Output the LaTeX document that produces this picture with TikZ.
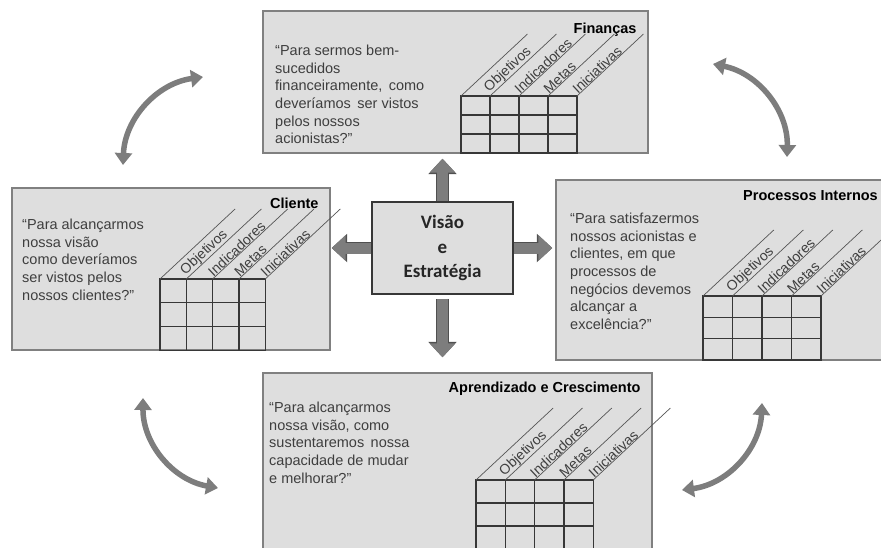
\documentclass[tikz,border=0pt]{standalone}
\usepackage{fontspec}
\setmainfont{Liberation Sans}
\newfontfamily\calibfont{Carlito}
\usepackage{tikz}
\usetikzlibrary{calc}
\usetikzlibrary{positioning}
\usetikzlibrary{arrows.meta}

\definecolor{boxfill}{RGB}{222,222,222}
\definecolor{boxline}{RGB}{128,128,128}
\definecolor{gridcol}{RGB}{55,55,55}
\definecolor{diagcol}{RGB}{85,85,85}
\definecolor{txtcol}{RGB}{62,62,62}
\definecolor{arrfill}{RGB}{125,125,125}
\definecolor{arrline}{RGB}{80,80,80}

% table of a perspective: x, y of top left corner, column width, row height, rise of the slanted lines
\newcommand{\bscgrid}[5]{%
	\begin{scope}[shift={(#1,#2)}]
		\draw[gridline] (0,0) rectangle (4*#3,-3*#4);
		\foreach \i in {1,2,3} \draw[gridline] (\i*#3,0) -- (\i*#3,-3*#4);
		\foreach \j in {1,2} \draw[gridline] (0,-\j*#4) -- (4*#3,-\j*#4);
		\foreach \i in {0,...,4} \draw[diagline] (\i*#3,0) -- ++(43:{#5/sin(43)});
		\foreach \lab [count=\i] in {Objetivos,Indicadores,Metas,Iniciativas}
			\node[collabel] at ($(\i*#3,0)+(43:1.5)$) {\lab};
	\end{scope}}

\begin{document}
\begin{tikzpicture}[x=1pt,y=1pt,
		bscbox/.style={rectangle, draw=boxline, fill=boxfill, line width=1.4pt, inner sep=0pt},
		bsctitle/.style={inner sep=0pt, font=\bfseries\fontsize{14.5}{17}\selectfont},
		quote/.style={inner sep=0pt, align=left, text=txtcol, font=\fontsize{14.5}{17.6}\selectfont},
		gridline/.style={draw=gridcol, line width=1.2pt},
		diagline/.style={draw=diagcol, line width=0.7pt},
		collabel/.style={rotate=43, anchor=south west, inner sep=0.3pt, text=txtcol, font=\fontsize{14}{15}\selectfont},
		blockarr/.style={draw=arrfill, line width=11pt, -{Triangle[length=14pt,width=25pt]},
			preaction={draw=arrline, line width=12.5pt, -{Triangle[length=15.5pt,width=27.5pt]}}},
		curvarr/.style={draw=arrfill, line width=5.5pt, {Triangle[length=12pt,width=17pt]}-{Triangle[length=12pt,width=17pt]}}]
	\useasboundingbox (0,0) rectangle (881,-547);
	\clip (0,0) rectangle (881,-547);
	
	% the four perspectives
	\node[bscbox, minimum width=385pt, minimum height=142pt] (fin) at (455.5,-82) {};
	\node[bscbox, minimum width=318pt, minimum height=162pt] (cli) at (171,-269) {};
	\node[bscbox, minimum width=344pt, minimum height=180pt] (proc) at (728,-270) {};
	\node[bscbox, minimum width=389pt, minimum height=187pt] (apr) at (457.5,-466.5) {};
	
	\node[bsctitle, anchor=north east] (fint) at ($(fin.north east)+(-12,-12)$) {Finanças};
	\node[bsctitle, anchor=north east] (clit) at ($(cli.north east)+(-12,-10)$) {Cliente};
	\node[bsctitle, anchor=north east] (proct) at (878,-190) {Processos Internos};
	\node[bsctitle, anchor=north east] (aprt) at ($(apr.north east)+(-12,-9)$) {Aprendizado e Crescimento};
	
	\node[quote, anchor=north west] (finq) at (275,-45) {“Para sermos bem-\\sucedidos\\financeiramente,\, como\\deveríamos\, ser vistos\\pelos nossos\\acionistas?”};
	\node[quote, anchor=north west] (cliq) at (22,-219) {“Para alcançarmos\\nossa visão\\como deveríamos\\ser vistos pelos\\nossos clientes?”};
	\node[quote, anchor=north west] (procq) at (570,-213) {“Para satisfazermos\\nossos acionistas e\\clientes, em que\\processos de\\negócios devemos\\alcançar a\\excelência?”};
	\node[quote, anchor=north west] (aprq) at (269,-402) {“Para alcançarmos\\nossa visão, como\\sustentaremos\, nossa\\capacidade de mudar\\e melhorar?”};
	
	\bscgrid{461}{-96}{29}{19}{62}
	\bscgrid{160}{-279}{26.3}{23.7}{70}
	\bscgrid{703}{-296}{29.5}{21.3}{66}
	\bscgrid{476}{-480}{29.3}{23}{72}
	
	% centre
	\node[rectangle, draw=gridcol, fill=boxfill, line width=1.5pt, minimum width=141pt, minimum height=92pt,
		align=center, font=\calibfont\bfseries\fontsize{19}{24.5}\selectfont, text=black!85] (vis) at (442.5,-248) {Visão\\e\\Estratégia};
	
	\draw[blockarr, shorten >=5pt] (vis.north) -- (vis.north |- fin.south);
	\draw[blockarr, shorten <=4pt, shorten >=15pt] (vis.south) -- (vis.south |- apr.north);
	\draw[blockarr, shorten >=1pt] (vis.west) -- (vis.west -| cli.east);
	\draw[blockarr, shorten >=3pt] (vis.east) -- (vis.east -| proc.west);
	
	% cycle between the perspectives
	\coordinate (tlA) at (123,-165);
	\coordinate (tlB) at (203,-77);
	\coordinate (trA) at (713,-64);
	\coordinate (trB) at (787,-157);
	\coordinate (blA) at (143,-398);
	\coordinate (blB) at (218,-488);
	\coordinate (brA) at (762,-403);
	\coordinate (brB) at (682,-490);
	\draw[curvarr] (tlA) to[bend left=40] (tlB);
	\draw[curvarr] (trA) to[bend left=40] (trB);
	\draw[curvarr] (blA) to[bend right=40] (blB);
	\draw[curvarr] (brA) to[bend left=40] (brB);
\end{tikzpicture}
\end{document}
